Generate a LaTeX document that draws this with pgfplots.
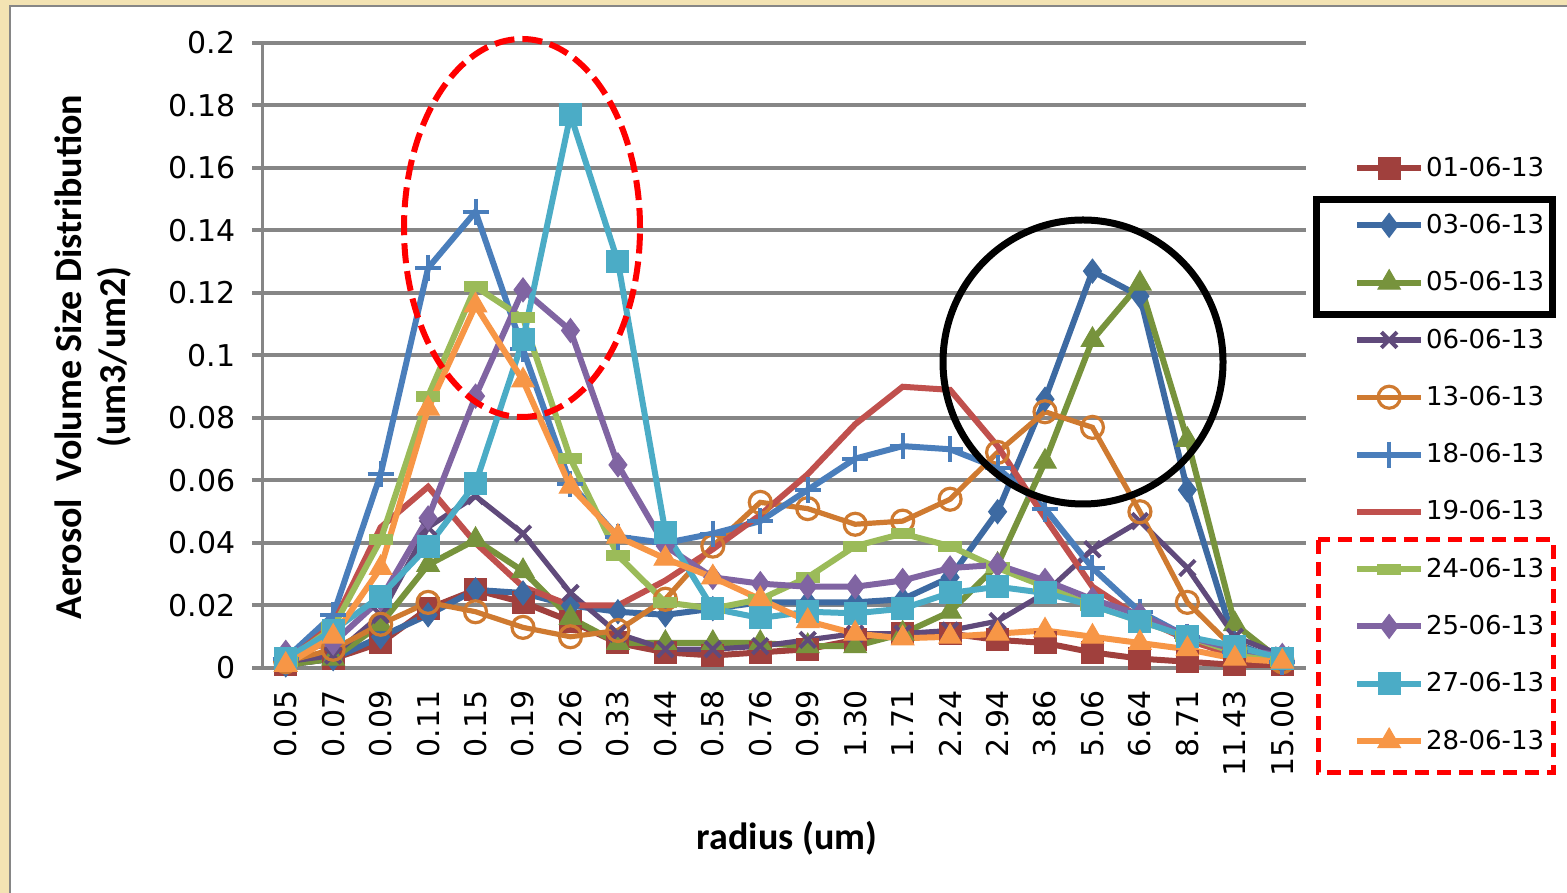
\documentclass[border=0pt]{standalone}
\usepackage{fontspec}
\setmainfont{DejaVu Sans}
\newfontfamily\carlito{Carlito}
\usepackage{pgfplots}
\usepackage{pgfplotstable}
\pgfplotsset{compat=1.18}

\definecolor{parch}{HTML}{F3E3B3}
\definecolor{gridg}{HTML}{868686}
\definecolor{cA}{HTML}{A0403D}
\definecolor{cB}{HTML}{3D6AA2}
\definecolor{cC}{HTML}{77933C}
\definecolor{cD}{HTML}{604A7B}
\definecolor{cE}{HTML}{CF7A30}
\definecolor{cF}{HTML}{4A7EBB}
\definecolor{cG}{HTML}{C0504D}
\definecolor{cH}{HTML}{9BBB59}
\definecolor{cI}{HTML}{8064A2}
\definecolor{cJ}{HTML}{4BACC6}
\definecolor{cK}{HTML}{F79646}

% radius index, one column per date
\pgfplotstableread{
i  a     b     c     d     e     f     g     h     k     l      m
0  0.001 0.001 0.001 0.002 0.002 0.003 0.002 0.002 0.005 0.003  0.001
1  0.003 0.003 0.003 0.004 0.006 0.017 0.014 0.013 0.008 0.012  0.010
2  0.008 0.010 0.014 0.017 0.014 0.062 0.045 0.041 0.022 0.023  0.032
3  0.019 0.017 0.033 0.045 0.021 0.128 0.058 0.087 0.048 0.039  0.083
4  0.025 0.025 0.041 0.055 0.018 0.146 0.040 0.122 0.087 0.059  0.116
5  0.021 0.024 0.031 0.043 0.013 0.102 0.026 0.112 0.121 0.105  0.092
6  0.015 0.020 0.016 0.024 0.010 0.059 0.020 0.067 0.108 0.177  0.058
7  0.008 0.018 0.008 0.011 0.012 0.042 0.020 0.036 0.065 0.130  0.042
8  0.005 0.017 0.008 0.006 0.022 0.040 0.028 0.021 0.039 0.0435 0.035
9  0.004 0.019 0.008 0.006 0.039 0.043 0.038 0.019 0.029 0.019  0.029
10 0.005 0.021 0.008 0.007 0.053 0.047 0.049 0.022 0.027 0.016  0.022
11 0.006 0.021 0.007 0.009 0.051 0.057 0.062 0.029 0.026 0.018  0.015
12 0.009 0.021 0.007 0.011 0.046 0.067 0.078 0.039 0.026 0.0175 0.011
13 0.011 0.022 0.011 0.011 0.047 0.071 0.090 0.043 0.028 0.019  0.0095
14 0.011 0.029 0.018 0.012 0.054 0.070 0.089 0.039 0.032 0.024  0.010
15 0.009 0.050 0.033 0.015 0.069 0.064 0.071 0.032 0.033 0.026  0.011
16 0.008 0.086 0.066 0.024 0.082 0.051 0.048 0.026 0.028 0.024  0.012
17 0.005 0.127 0.105 0.038 0.077 0.032 0.026 0.020 0.022 0.020  0.010
18 0.003 0.119 0.123 0.047 0.050 0.018 0.016 0.015 0.017 0.015  0.008
19 0.002 0.057 0.073 0.032 0.021 0.010 0.009 0.010 0.010 0.010  0.006
20 0.001 0.008 0.014 0.010 0.006 0.005 0.004 0.005 0.006 0.007  0.003
21 0.001 0.002 0.002 0.004 0.002 0.002 0.002 0.002 0.004 0.003  0.002
}\datatab

\begin{document}
\begin{tikzpicture}
\fill[parch] (0,0) rectangle (783.5pt,446.5pt);
\filldraw[fill=white, draw=gridg, line width=1pt] (5pt,-2pt) rectangle (786pt,443.5pt);

\begin{axis}[
    at={(131pt,112.5pt)}, anchor=south west,
    scale only axis,
    width=522pt, height=312.5pt,
    xmin=-0.5, xmax=21.5,
    ymin=0, ymax=0.2,
    clip=false,
    axis lines*=left,
    axis line style={line width=1.5pt, gridg},
    xtick={0,...,21},
    xticklabels={0.05,0.07,0.09,0.11,0.15,0.19,0.26,0.33,0.44,0.58,0.76,0.99,1.30,1.71,2.24,2.94,3.86,5.06,6.64,8.71,11.43,15.00},
    x tick style={draw=none},
    minor xtick={-0.5,0.5,...,21.5},
    minor x tick style={line width=1.5pt, gridg},
    minor tick length=5pt,
    ytick={0,0.02,0.04,0.06,0.08,0.1,0.12,0.14,0.16,0.18,0.2},
    yticklabels={0,0.02,0.04,0.06,0.08,0.1,0.12,0.14,0.16,0.18,0.2},
    y tick style={line width=2pt, gridg},
    major tick length=5pt,
    tick align=outside,
    ymajorgrids,
    grid style={line width=2pt, gridg},
    tick label style={font=\fontsize{15}{17}\selectfont},
    x tick label style={rotate=90, anchor=east, inner sep=6pt},
    y tick label style={inner sep=8pt},
    every axis plot/.append style={line width=3pt},
    legend cell align=left,
    legend image code/.code={\draw[mark repeat=2,mark phase=2,#1] plot coordinates {(0pt,0pt) (16pt,0pt) (32pt,0pt)};},
    legend style={at={(1.04,0.828)}, anchor=north west, draw=none, fill=none,
        font=\fontsize{13}{15}\selectfont, row sep=15.5pt,
        nodes={inner sep=1pt},
        /tikz/every even column/.append style={column sep=4pt}},
]
\addplot[cA, mark=square*, mark size=5.5pt, mark options={solid, fill=cA, line width=0.5pt}] table[x=i,y=a] {\datatab};
\addlegendentry{01-06-13}
\addplot[cB, mark=diamond*, mark size=6pt, mark options={solid, fill=cB, line width=0.5pt}] table[x=i,y=b] {\datatab};
\addlegendentry{03-06-13}
\addplot[cC, mark=triangle*, mark size=6.5pt, mark options={solid, fill=cC, line width=0.5pt}] table[x=i,y=c] {\datatab};
\addlegendentry{05-06-13}
\addplot[cD, line width=2.6pt, mark=x, mark size=5.5pt, mark options={solid, line width=2pt}] table[x=i,y=d] {\datatab};
\addlegendentry{06-06-13}
\addplot[cE, line width=2.6pt, mark=o, mark size=5.5pt, mark options={solid, line width=1.6pt}] table[x=i,y=e] {\datatab};
\addlegendentry{13-06-13}
\addplot[cF, mark=+, mark size=6.5pt, mark options={solid, line width=2pt}] table[x=i,y=f] {\datatab};
\addlegendentry{18-06-13}
\addplot[cG, no markers] table[x=i,y=g] {\datatab};
\addlegendentry{19-06-13}
\addplot[cH, mark=-, mark size=6pt, mark options={solid, line width=5.5pt}] table[x=i,y=h] {\datatab};
\addlegendentry{24-06-13}
\addplot[cI, mark=diamond*, mark size=6pt, mark options={solid, fill=cI, line width=0.5pt}] table[x=i,y=k] {\datatab};
\addlegendentry{25-06-13}
\addplot[cJ, mark=square*, mark size=5.5pt, mark options={solid, fill=cJ, line width=0.5pt}] table[x=i,y=l] {\datatab};
\addlegendentry{27-06-13}
\addplot[cK, mark=triangle*, mark size=6.5pt, mark options={solid, fill=cK, line width=0.5pt}] table[x=i,y=m] {\datatab};
\addlegendentry{28-06-13}
\end{axis}

% axis titles
\node[rotate=90, align=center, font=\carlito\bfseries\fontsize{19}{22}\selectfont] at (46.75pt,268pt)
  {Aerosol\ \ Volume Size Distribution\\(um3/um2)};
\node[font=\carlito\bfseries\fontsize{19}{22}\selectfont] at (393.5pt,27.5pt) {radius (um)};

% highlight marks
\draw[red, line width=3pt, dash pattern=on 10pt off 4pt] (261pt,332.5pt) ellipse [x radius=59pt, y radius=94.5pt];
\draw[black, line width=3.5pt] (541.5pt,265.5pt) ellipse [x radius=70pt, y radius=71pt];
\draw[black, line width=3.5pt] (658pt,346.5pt) rectangle (776pt,289pt);
\draw[red, line width=2.5pt, dash pattern=on 7pt off 4pt] (659pt,176.5pt) rectangle (776.5pt,60pt);

\pgfresetboundingbox
\useasboundingbox (0,0) rectangle (783.5pt,446.5pt);
\end{tikzpicture}
\end{document}
